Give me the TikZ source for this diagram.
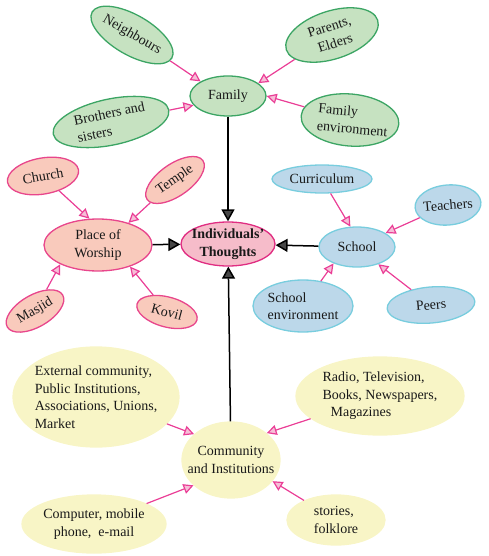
\documentclass[tikz,border=0pt]{standalone}
\usepackage{fontspec}
\setmainfont{Liberation Serif}
\usetikzlibrary{shapes.geometric,arrows.meta}
\definecolor{gfill}{RGB}{198,226,193}
\definecolor{gline}{RGB}{60,165,100}
\definecolor{pfill}{RGB}{249,202,188}
\definecolor{pline}{RGB}{232,70,140}
\definecolor{bfill}{RGB}{188,216,234}
\definecolor{bline}{RGB}{120,205,222}
\definecolor{yfill}{RGB}{248,245,198}
\definecolor{ifill}{RGB}{246,188,202}
\definecolor{iline}{RGB}{224,45,130}
\definecolor{arr}{RGB}{234,62,150}
\definecolor{arrhead}{RGB}{246,190,215}
\begin{document}
\begin{tikzpicture}[x=1pt,y=-1pt,
 bub/.style={ellipse, inner sep=0pt, line width=1.3pt},
 sz/.style 2 args={minimum width=#1, minimum height=#2},
 gb/.style={bub, fill=gfill, draw=gline},
 pb/.style={bub, fill=pfill, draw=pline},
 bb/.style={bub, fill=bfill, draw=bline},
 yb/.style={bub, fill=yfill, draw=yfill},
 ib/.style={bub, fill=ifill, draw=iline},
 txt/.style={font=\fontsize{14}{17.5}\selectfont, inner sep=0pt, text=black!90},
 pa/.style={draw=arr, line width=1.2pt, -{Triangle[length=10pt,width=10pt,fill=arrhead]}},
 ba/.style={draw=black, line width=1.5pt, -{Triangle[length=12pt,width=13pt,fill=black!72]}}
]
\useasboundingbox (0,0) rectangle (488,556);

% Family group
\node[gb, sz={76}{40}] (fam) at (228,96) {};
\node[txt] (famt) at (fam) {Family};
\node[gb, sz={92}{40}, rotate=-30] (nb) at (132,35) {};
\node[txt, rotate=-30] (nbt) at (nb) {Neighbours};
\node[gb, sz={118}{46}, rotate=12] (bro) at (111,122) {};
\node[txt, rotate=12, align=left] (brot) at (bro) {Brothers and\\sisters};
\node[gb, sz={96}{48}, rotate=18] (par) at (332,35) {};
\node[txt, rotate=18, align=left] (part) at (par) {Parents,\\\hspace{5pt}Elders};
\node[gb, sz={98}{52}, rotate=-5] (fen) at (350,120) {};
\node[txt, rotate=-5, align=left] (fent) at ([xshift=3pt]fen.center) {Family\\environment};

% Place of worship group
\node[pb, sz={108}{52}] (pow) at (98,245) {};
\node[txt, align=center] (powt) at (pow) {Place of\\Worship};
\node[pb, sz={72}{36}, rotate=10] (chu) at (43,176) {};
\node[txt, rotate=10] (chut) at (chu) {Church};
\node[pb, sz={68}{32}, rotate=35] (tem) at (175,180) {};
\node[txt, rotate=35] (temt) at (tem) {Temple};
\node[pb, sz={64}{32}, rotate=30] (mas) at (35,311) {};
\node[txt, rotate=30] (mast) at (mas) {Masjid};
\node[pb, sz={62}{30}, rotate=-15] (kov) at (167,312) {};
\node[txt, rotate=-15] (kovt) at (kov) {Kovil};

% Centre
\node[ib, sz={94}{44}] (ind) at (228,244) {};
\node[txt, font=\fontsize{14}{17.5}\selectfont\bfseries, align=center] (indt) at (ind) {Individuals'\\Thoughts};

% School group
\node[bb, sz={76}{40}] (sch) at (357,247) {};
\node[txt] (scht) at (sch) {School};
\node[bb, sz={100}{28}] (cur) at (322,179) {};
\node[txt] (curt) at (cur) {Curriculum};
\node[bb, sz={66}{40}, rotate=5] (tea) at (448,205) {};
\node[txt, rotate=5] (teat) at (tea) {Teachers};
\node[bb, sz={100}{52}] (sen) at (303,306) {};
\node[txt, align=left] (sent) at (sen) {School\\environment};
\node[bb, sz={88}{36}, rotate=5] (pee) at (431,305) {};
\node[txt, rotate=5] (peet) at (pee) {Peers};

% Community group
\node[yb, sz={98}{76}] (com) at (231,460) {};
\node[txt, align=center] (comt) at (com) {Community\\and Institutions};
\node[yb, sz={166}{100}] (ext) at (96,397) {};
\node[txt, align=left] (extt) at (ext) {External community,\\Public Institutions,\\Associations, Unions,\\Market};
\node[yb, sz={144}{58}] (cmp) at (94,524) {};
\node[txt, align=center] (cmpt) at (cmp) {Computer, mobile\\phone,\ \ e-mail};
\node[yb, sz={168}{78}] (rad) at (380,396) {};
\node[txt, align=left] (radt) at (rad) {Radio, Television,\\Books,\ Newspapers,\\\hspace{8pt}Magazines};
\node[yb, sz={98}{50}] (sto) at (336,520) {};
\node[txt, align=left] (stot) at (sto) {stories,\\folklore};

% pink arrows
\draw[pa] (nb) -- (fam.152);
\draw[pa] (bro) -- (fam.195);
\draw[pa] (par) -- (fam.23);
\draw[pa] (fen) -- (fam.0);
\draw[pa] (chu) -- (pow.108);
\draw[pa] (tem) -- (pow.36);
\draw[pa] (mas) -- (pow.207);
\draw[pa] (kov) -- (pow.326);
\draw[pa] (cur) -- (sch.108);
\draw[pa] (tea) -- (sch.26);
\draw[pa] (sen) -- (sch.215);
\draw[pa] (pee) -- (sch.321);
\draw[pa] (ext) -- (com.145);
\draw[pa] (cmp) -- (com.214);
\draw[pa] (rad) -- (com.37);
\draw[pa] (sto) -- (com.333);

% black arrows
\draw[ba] (fam) -- (ind);
\draw[ba] (pow) -- (ind);
\draw[ba] (sch) -- (ind);
\draw[ba] (com) -- (ind);
\end{tikzpicture}
\end{document}
